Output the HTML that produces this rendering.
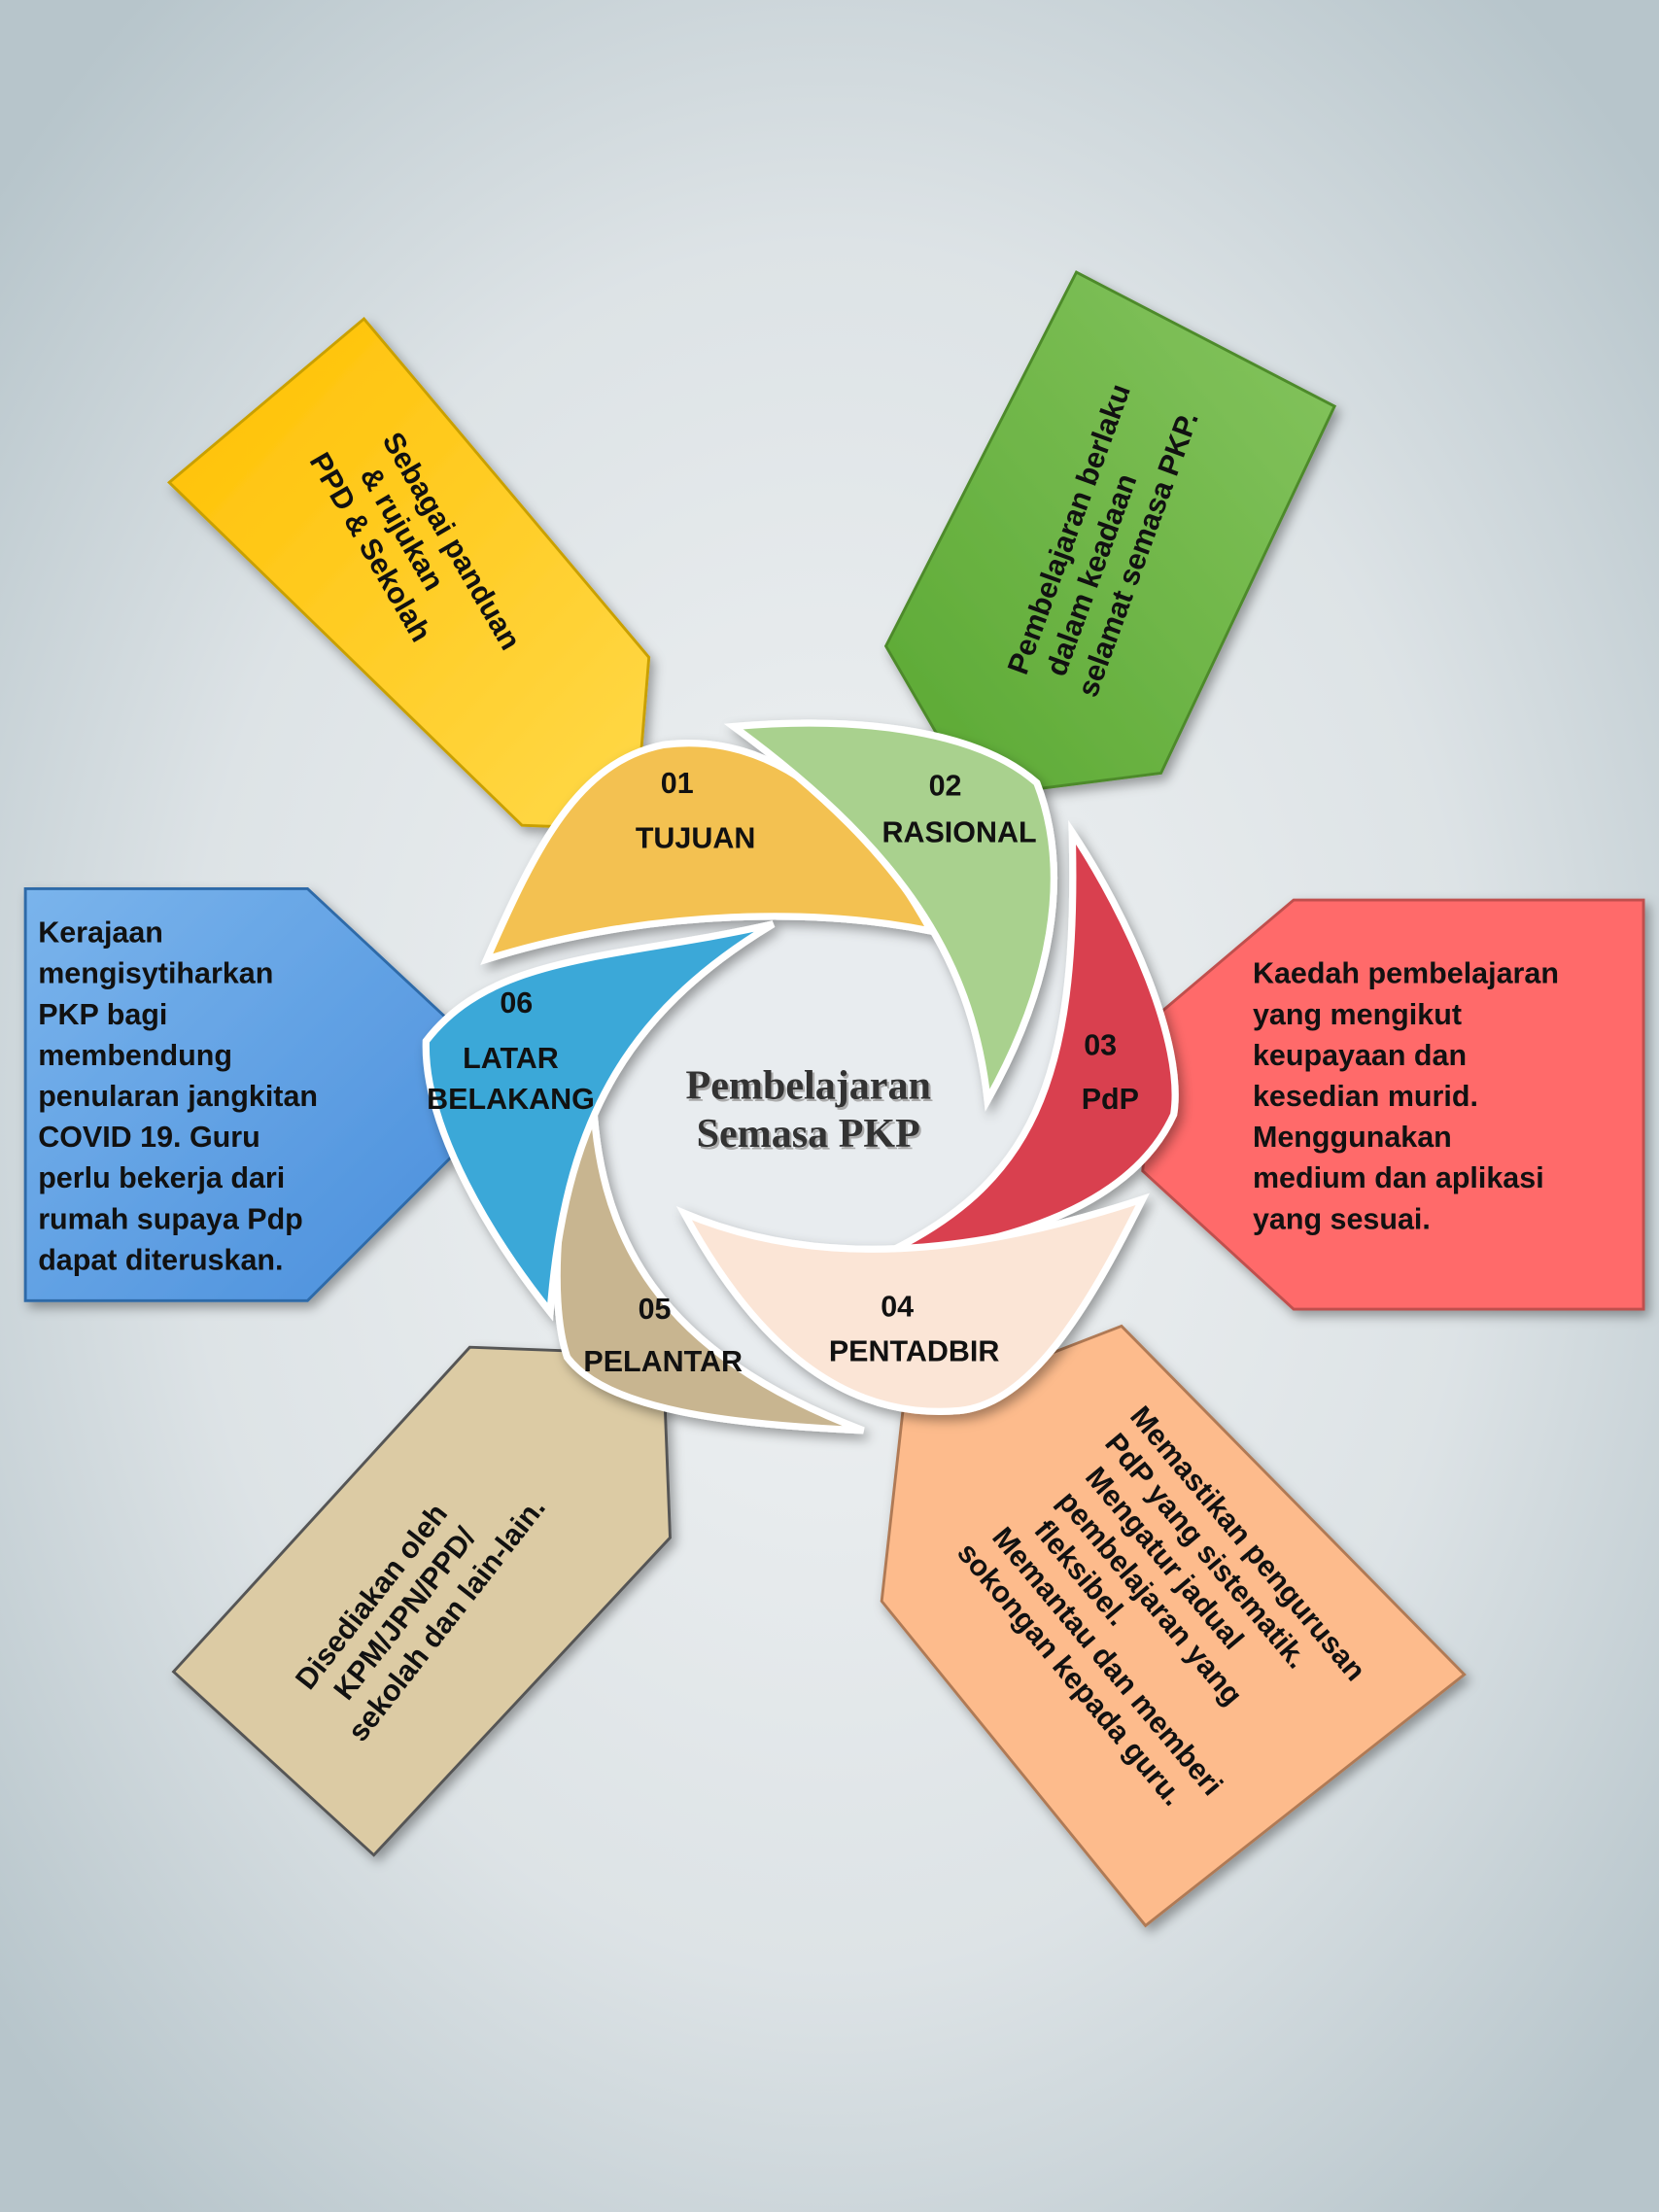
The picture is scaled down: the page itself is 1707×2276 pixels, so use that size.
<!DOCTYPE html>
<html><head><meta charset="utf-8"><style>
html,body{margin:0;padding:0;width:1707px;height:2276px;overflow:hidden}
svg{display:block}
text{font-family:"Liberation Sans","DejaVu Sans",sans-serif;font-weight:bold}
</style></head><body>
<svg width="1707" height="2276" viewBox="0 0 1176 1568" xmlns="http://www.w3.org/2000/svg">
<defs>
<radialGradient id="bg" cx="50%" cy="50%" r="65%">
<stop offset="0" stop-color="#f1f3f4"/><stop offset="0.6" stop-color="#dde3e6"/><stop offset="1" stop-color="#b7c5cb"/></radialGradient>
<linearGradient id="gy" x1="0" y1="0" x2="1" y2="1"><stop offset="0" stop-color="#ffc000"/><stop offset="1" stop-color="#ffd94a"/></linearGradient>
<linearGradient id="gg" x1="0" y1="1" x2="1" y2="0"><stop offset="0" stop-color="#5aa832"/><stop offset="1" stop-color="#86c560"/></linearGradient>
<linearGradient id="gb" x1="0" y1="0" x2="1" y2="1"><stop offset="0" stop-color="#7ab4ec"/><stop offset="1" stop-color="#4a8fdc"/></linearGradient>
<filter id="sh" x="-20%" y="-20%" width="140%" height="140%"><feDropShadow dx="3" dy="4" stdDeviation="4" flood-color="#000" flood-opacity="0.35"/></filter>
</defs>
<rect width="1176" height="1568" fill="url(#bg)"/>

<polygon points="120,342 258,226 460,466 450,588 370,585" fill="url(#gy)" stroke="#c9a000" stroke-width="2" filter="url(#sh)"/>
<polygon points="628,458 763,193 946,288 823,548 690,565" fill="url(#gg)" stroke="#4d8a2c" stroke-width="2" filter="url(#sh)"/>
<polygon points="820,720 917,638 1165,638 1165,928 917,928 810,830" fill="#ff6b6b" stroke="#c0504d" stroke-width="2" filter="url(#sh)"/>
<polygon points="625,1135 640,1000 795,940 1038,1187 812,1365" fill="#fdbb8c" stroke="#b07a55" stroke-width="2" filter="url(#sh)"/>
<polygon points="123,1185 333,955 470,960 475,1090 265,1315" fill="#dccba4" stroke="#555" stroke-width="2" filter="url(#sh)"/>
<polygon points="18,630 218,630 320,725 320,820 218,922 18,922" fill="url(#gb)" stroke="#2e6aa8" stroke-width="2" filter="url(#sh)"/>

<circle cx="570" cy="775" r="210" fill="#e8ecef"/>

<g stroke="#fff" stroke-width="5" filter="url(#sh)">
<path d="M345,680 C380,600 410,540 470,528 C545,518 610,570 660,660 C560,640 440,650 345,680 Z" fill="#f3c151"/>
<path d="M520,515 C600,508 690,515 735,555 C760,620 745,700 700,780 C690,690 650,610 520,515 Z" fill="#a9d18e"/>
<path d="M760,590 C800,650 840,740 832,790 C800,860 700,885 625,890 C730,840 765,770 760,590 Z" fill="#d9404f"/>
<path d="M810,850 C770,930 730,995 680,1000 C620,1005 550,980 485,860 C580,900 690,890 810,850 Z" fill="#fbe5d6"/>
<path d="M612,1014 C520,1010 430,1000 402,962 C388,920 395,830 420,760 C420,880 470,960 612,1014 Z" fill="#c8b590"/>
<path d="M548,655 C440,680 350,675 302,738 C300,800 350,880 390,930 C400,800 440,720 548,655 Z" fill="#3aa8d8"/>
</g>

<g fill="#111" font-size="21" text-anchor="middle">
<text x="480" y="562">01</text><text x="493" y="601">TUJUAN</text>
<text x="670" y="564">02</text><text x="680" y="597">RASIONAL</text>
<text x="780" y="748">03</text><text x="787" y="786">PdP</text>
<text x="636" y="933">04</text><text x="648" y="965">PENTADBIR</text>
<text x="464" y="935">05</text><text x="470" y="972">PELANTAR</text>
<text x="366" y="718">06</text><text x="362" y="757">LATAR</text><text x="362" y="786">BELAKANG</text>
</g>
<g font-size="29" font-weight="bold" text-anchor="middle">
<text x="573" y="779" fill="#aaa" dx="1.5" dy="1.5" style="font-family:'Liberation Serif',serif">Pembelajaran</text>
<text x="573" y="779" fill="#333" style="font-family:'Liberation Serif',serif">Pembelajaran</text>
<text x="573" y="813" fill="#aaa" dx="1.5" dy="1.5" style="font-family:'Liberation Serif',serif">Semasa PKP</text>
<text x="573" y="813" fill="#333" style="font-family:'Liberation Serif',serif">Semasa PKP</text>
</g>

<g fill="#111" font-size="21">
<g transform="translate(295,398) rotate(60)" text-anchor="middle">
<text x="0" y="-22">Sebagai panduan</text><text x="-25" y="4">&amp; rujukan</text><text x="-25" y="30">PPD  &amp; Sekolah</text></g>
<g transform="translate(785,385) rotate(-70)" text-anchor="middle">
<text x="0" y="-22">Pembelajaran berlaku</text><text x="-25" y="4">dalam keadaan</text><text x="0" y="30">selamat semasa PKP.</text></g>
<g transform="translate(888,697)">
<text x="0" y="0">Kaedah pembelajaran</text><text x="0" y="29">yang mengikut</text><text x="0" y="58"> keupayaan dan</text><text x="0" y="87">kesedian murid.</text><text x="0" y="116">Menggunakan</text><text x="0" y="145">medium dan aplikasi</text><text x="0" y="174">yang sesuai.</text></g>
<g transform="translate(27,668)">
<text x="0" y="0">Kerajaan</text><text x="0" y="29">mengisytiharkan</text><text x="0" y="58">PKP bagi</text><text x="0" y="87">membendung</text><text x="0" y="116">penularan jangkitan</text><text x="0" y="145">COVID 19. Guru</text><text x="0" y="174">perlu bekerja dari</text><text x="0" y="203">rumah supaya Pdp</text><text x="0" y="232">dapat diteruskan.</text></g>
<g transform="translate(818,1150) rotate(50)" text-anchor="middle">
<text x="0" y="-80">Memastikan pengurusan</text><text x="-15" y="-54">PdP yang sistematik.</text><text x="-30" y="-28">Mengatur jadual</text><text x="-15" y="-2">pembelajaran yang</text><text x="-60" y="24">fleksibel.</text><text x="0" y="50">Memantau dan memberi</text><text x="-10" y="76">sokongan kepada guru.</text></g>
<g transform="translate(300,1135) rotate(-52)" text-anchor="middle">
<text x="-20" y="-24">Disediakan oleh</text><text x="-15" y="2">KPM/JPN/PPD/</text><text x="0" y="28">sekolah dan lain-lain.</text></g>
</g>
</svg>
</body></html>
